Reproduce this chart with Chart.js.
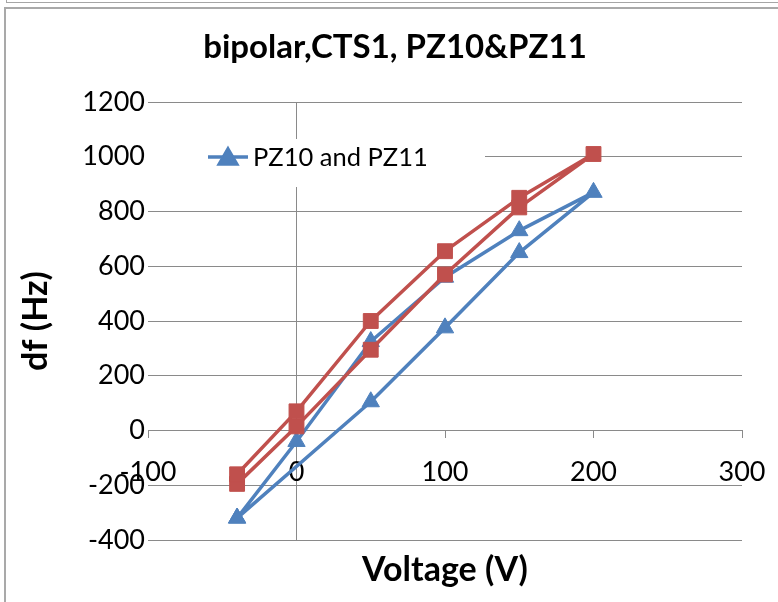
<!DOCTYPE html>
<html>
<head>
<meta charset="utf-8">
<script src="https://cdn.jsdelivr.net/npm/chart.js@4.4.0/dist/chart.umd.min.js"></script>
<style>
  html, body { margin: 0; padding: 0; background: #fff; }
  #wrap { position: relative; width: 778px; height: 602px; overflow: hidden; }
  .frame { position: absolute; box-sizing: border-box; }
  #cellAbove { left: 6px; top: -20px; width: 800px; height: 23px; border: 1px solid #a6a6a6; }
  #chartFrame { left: 4px; top: 7px; width: 800px; height: 700px; border-left: 2px solid #a9a9a9; border-top: 2px solid #a9a9a9; }
  #myChart { position: absolute; left: 0; top: 0; }
</style>
</head>
<body>
<div id="wrap">
  <div class="frame" id="cellAbove"></div>
  <div class="frame" id="chartFrame"></div>
  <canvas id="myChart" width="778" height="602"></canvas>
</div>
<script>
// df vs voltage, bipolar sweep

const pzVoltage = [-40, 0, 50, 100, 150, 200, 150, 100, 50, -40];
const pzDf = [-320, -40, 325, 560, 730, 870, 650, 375, 105, -320];

const pz2Voltage = [-40, 0, 50, 100, 150, 200, 150, 100, 50, 0, -40];
const pz2Df = [-195, 15, 295, 570, 815, 1010, 850, 655, 400, 70, -160];

const xTicks = [-100, 0, 100, 200, 300];
const yTicks = [-400, -200, 0, 200, 400, 600, 800, 1000, 1200];

const legendLabel = "PZ10 and PZ11";

const blue = "#4F81BD";
const red = "#C0504D";
const gridColor = "#8a8a8a";
const FONT = "Lato, 'Open Sans', sans-serif";

function toPoints(xs, ys) {
  return xs.map((x, i) => ({ x: x, y: ys[i] }));
}

// legend sits inside the plot area on a white box
const legendBox = {
  id: "legendBox",
  afterDraw(chart) {
    const ctx = chart.ctx;
    ctx.save();
    ctx.fillStyle = "#ffffff";
    ctx.fillRect(146, 139, 339, 48);

    const cy = 157;
    ctx.strokeStyle = blue;
    ctx.lineWidth = 3.5;
    ctx.beginPath();
    ctx.moveTo(208, cy);
    ctx.lineTo(248, cy);
    ctx.stroke();
    Chart.helpers.drawPoint(ctx, { pointStyle: "triangle", radius: 10, borderWidth: 1 }, 228, cy + 2);
    ctx.fillStyle = blue;
    ctx.fill();

    ctx.fillStyle = "#000";
    ctx.font = "25.5px " + FONT;
    ctx.textBaseline = "middle";
    ctx.textAlign = "left";
    ctx.fillText(legendLabel, 253, cy + 1);
    ctx.restore();
  },
};

const lineStyle = {
  showLine: true,
  borderWidth: 3.5,
  borderJoinStyle: "round",
  borderCapStyle: "round",
  pointBorderWidth: 1,
};

const myChart = new Chart("myChart", {
  type: "scatter",
  data: {
    datasets: [
      {
        ...lineStyle,
        label: legendLabel,
        data: toPoints(pzVoltage, pzDf),
        borderColor: blue,
        backgroundColor: blue,
        pointStyle: "triangle",
        pointRadius: 10,
        order: 2,
      },
      {
        ...lineStyle,
        label: "",
        data: toPoints(pz2Voltage, pz2Df),
        borderColor: red,
        backgroundColor: red,
        pointStyle: "rect",
        pointRadius: 10.5,
        order: 1,
      },
    ],
  },
  options: {
    responsive: false,
    animation: false,
    layout: {
      padding: { left: 48, right: 36, top: 0, bottom: 0 },
    },
    scales: {
      x: {
        type: "linear",
        position: { y: 0 },
        min: -100,
        max: 300,
        afterBuildTicks: (scale) => {
          scale.ticks = xTicks.map((v) => ({ value: v }));
        },
        afterFit: (scale) => {
          // end labels may overhang the plot area
          scale.paddingLeft = 0;
          scale.paddingRight = 0;
        },
        grid: {
          z: -1,
          color: (ctx) => (ctx.tick && ctx.tick.value === 0 ? gridColor : "rgba(0,0,0,0)"),
          tickColor: gridColor,
          tickLength: 7,
        },
        border: { display: true, color: gridColor, width: 1 },
        ticks: {
          autoSkip: false,
          maxRotation: 0,
          padding: 19,
          color: "#000",
          font: { family: FONT, size: 27 },
          callback: (value) => String(value),
        },
      },
      x2: {
        type: "linear",
        position: "bottom",
        min: 0,
        max: 1,
        grid: { display: false, drawTicks: false },
        border: { display: false },
        ticks: { display: false },
        afterFit: (scale) => {
          scale.height = 62;
        },
        title: {
          display: true,
          text: "Voltage (V)",
          color: "#000",
          font: { family: FONT, size: 34, weight: "bold" },
          padding: { top: 0, bottom: 11.6 },
        },
      },
      y: {
        min: -400,
        max: 1200,
        afterBuildTicks: (scale) => {
          scale.ticks = yTicks.map((v) => ({ value: v }));
        },
        afterFit: (scale) => {
          scale.width = 100;
        },
        grid: { z: -1, color: gridColor, drawTicks: false },
        border: { display: false },
        ticks: {
          autoSkip: false,
          padding: 3,
          color: "#000",
          font: { family: FONT, size: 27 },
          callback: (value) => String(value),
        },
        title: {
          display: true,
          text: "df (Hz)",
          color: "#000",
          font: { family: FONT, size: 34, weight: "bold" },
          padding: { top: -32.4, bottom: 0 },
        },
      },
    },
    plugins: {
      legend: { display: false },
      tooltip: { enabled: false },
      title: {
        display: true,
        text: "bipolar,CTS1, PZ10&PZ11",
        color: "#000",
        font: { family: FONT, size: 33, weight: "bold" },
        padding: { top: 28, bottom: 34.4 },
      },
    },
  },
  plugins: [legendBox],
});
</script>
</body>
</html>
